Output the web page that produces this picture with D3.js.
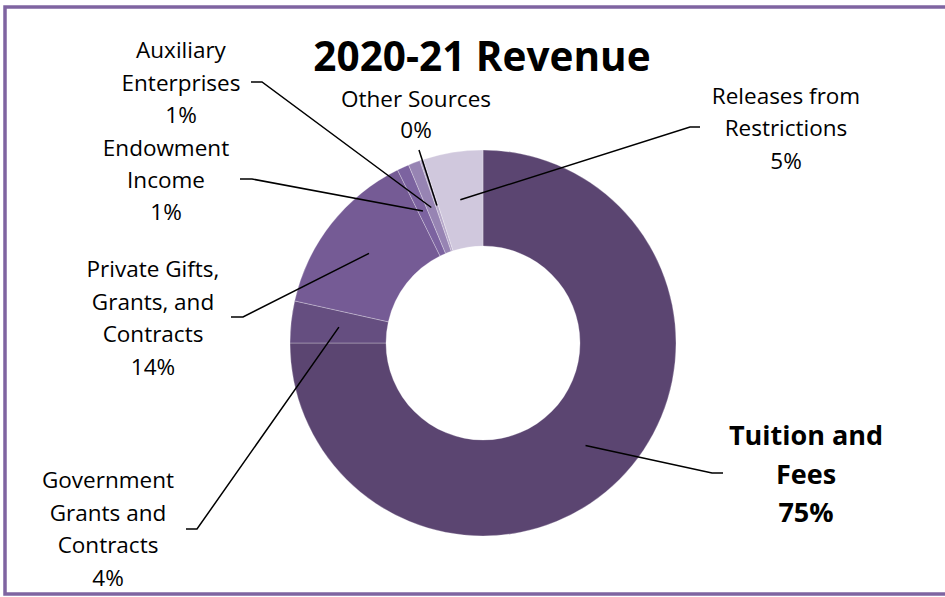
<!DOCTYPE html>
<html>
<head>
<meta charset="utf-8">
<script src="https://cdn.jsdelivr.net/npm/d3@7"></script>
<style>
  html, body { margin: 0; padding: 0; background: #fff; }
  svg { display: block; }
</style>
</head>
<body>
<svg id="chart" width="945" height="597"></svg>
<script>
const width = 945
const height = 597

// data (shares of revenue, %)
const categories = [
  'Tuition and Fees',
  'Government Grants and Contracts',
  'Private Gifts, Grants, and Contracts',
  'Endowment Income',
  'Auxiliary Enterprises',
  'Other Sources',
  'Releases from Restrictions'
]
const shares = [75.0, 3.5, 14.2, 1.0, 1.0, 0.3, 5.0]
const colors = ['#5b4571', '#654e80', '#755b95', '#7c63a0', '#9784b3', '#b6a8c9', '#d0c8dd']

// how each label wraps
const labelLines = [
  ['Tuition and', 'Fees'],
  ['Government', 'Grants and', 'Contracts'],
  ['Private Gifts,', 'Grants, and', 'Contracts'],
  ['Endowment', 'Income'],
  ['Auxiliary', 'Enterprises'],
  ['Other Sources'],
  ['Releases from', 'Restrictions']
]

// label placement: text centre, first baseline, leader elbow points
const labelLayout = [
  { x: 806, y: 445, lh: 38.5, bold: true, elbow: [[712, 473], [723, 473]] },
  { x: 108, y: 488, lh: 32.5, elbow: [[197, 529], [186, 529]] },
  { x: 153, y: 277, lh: 32.7, elbow: [[243, 317], [231, 317]] },
  { x: 166, y: 156, lh: 32, elbow: [[252, 179], [240, 179]] },
  { x: 181, y: 58, lh: 32.5, elbow: [[262, 82], [251, 82]] },
  { x: 416, y: 107, lh: 31, elbow: [[419, 150]] },
  { x: 786, y: 104, lh: 32.3, elbow: [[690, 127], [700, 127]] }
]

const cx = 483
const cy = 343
const outerR = 193
const innerR = 97

const svg = d3.select('#chart')
const font = '"Open Sans", Lato, sans-serif'

// frame
svg.append('rect')
  .attr('x', 5).attr('y', 7)
  .attr('width', 960).attr('height', 587)
  .attr('fill', 'none')
  .attr('stroke', '#7f64a1')
  .attr('stroke-width', 3.5)

const data = categories.map((c, i) => ({ name: c, value: shares[i], i: i }))
const total = d3.sum(shares)

const pie = d3.pie().value(d => d.value).sort(null)
const arc = d3.arc().innerRadius(innerR).outerRadius(outerR)
const arcs = pie(data)

const g = svg.append('g').attr('transform', `translate(${cx},${cy})`)

g.selectAll('path.slice')
  .data(arcs)
  .enter()
  .append('path')
  .attr('class', 'slice')
  .attr('d', arc)
  .attr('fill', d => colors[d.data.i])
  .attr('stroke', '#ffffff')
  .attr('stroke-opacity', 0.35)
  .attr('stroke-width', 0.8)

// leader lines from slice centroid to label elbow
const line = d3.line()
svg.append('g').selectAll('path.leader')
  .data(arcs)
  .enter()
  .append('path')
  .attr('class', 'leader')
  .attr('d', d => {
    const c = arc.centroid(d)
    const pts = [[c[0] + cx, c[1] + cy]].concat(labelLayout[d.data.i].elbow)
    return line(pts)
  })
  .attr('fill', 'none')
  .attr('stroke', '#000')
  .attr('stroke-width', 1.5)

// labels
const labels = svg.append('g').selectAll('text.label')
  .data(arcs)
  .enter()
  .append('text')
  .attr('class', 'label')
  .attr('text-anchor', 'middle')
  .attr('font-family', font)
  .attr('font-size', d => labelLayout[d.data.i].bold ? 27 : 22.5)
  .attr('font-weight', d => labelLayout[d.data.i].bold ? 700 : 400)
  .attr('fill', '#000')

labels.each(function (d) {
  const lay = labelLayout[d.data.i]
  const lines = labelLines[d.data.i].concat([Math.round(d.data.value / total * 100) + '%'])
  d3.select(this).selectAll('tspan')
    .data(lines)
    .enter()
    .append('tspan')
    .attr('x', lay.x)
    .attr('y', (t, k) => lay.y + k * lay.lh)
    .text(t => t)
})

// title
svg.append('text')
  .attr('x', 482)
  .attr('y', 71)
  .attr('text-anchor', 'middle')
  .attr('font-family', font)
  .attr('font-size', 40.5)
  .attr('font-weight', 700)
  .attr('fill', '#000')
  .text('2020-21 Revenue')
</script>
</body>
</html>
